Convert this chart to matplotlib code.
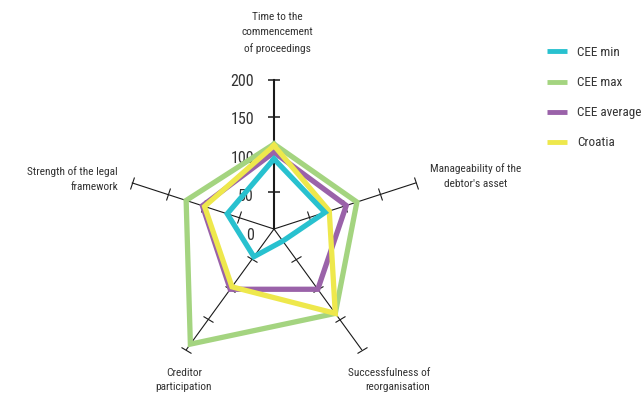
import numpy as np
import matplotlib
matplotlib.use('Agg')
import matplotlib.pyplot as plt
from matplotlib import font_manager as fm
from matplotlib.lines import Line2D
from matplotlib.markers import MarkerStyle
from matplotlib.transforms import Affine2D, offset_copy

# pick a condensed face if one is around
available = {f.name for f in fm.fontManager.ttflist}
for cand in ['Roboto Condensed', 'Archivo Narrow', 'PT Sans Narrow', 'Fira Sans Condensed',
             'Barlow Condensed', 'Liberation Sans Narrow', 'Open Sans Condensed']:
    if cand in available:
        plt.rcParams['font.family'] = [cand, 'DejaVu Sans']
        break

# data
categories = ['Time to the\ncommencement\nof proceedings',
              "Manageability of the\ndebtor's asset",
              'Successfulness of\nreorganisation',
              'Creditor\nparticipation',
              'Strength of the legal\nframework']
cee_min = [94, 72, 20, 46, 66]
cee_max = [114, 117, 140, 191, 124]
cee_avg = [103, 102, 100, 100, 101]
croatia = [112, 78, 140, 96, 98]
r_ticks = [0, 50, 100, 150, 200]

series = [('CEE max', cee_max, '#A4D480'),
          ('CEE average', cee_avg, '#9A62A9'),
          ('Croatia', croatia, '#EEE84C'),
          ('CEE min', cee_min, '#28C1CF')]
legend_order = ['CEE min', 'CEE max', 'CEE average', 'Croatia']

W, H = 644, 395
fig = plt.figure(figsize=(W / 100, H / 100), dpi=100)
cx, cy, rad = 274, 229, 149
ax = fig.add_axes([(cx - rad) / W, (H - cy - rad) / H, 2 * rad / W, 2 * rad / H],
                  projection='polar')
ax.set_theta_offset(np.pi / 2)
ax.set_theta_direction(-1)
ax.set_ylim(0, 200)
ax.axis('off')

n = len(categories)
angles = np.arange(n) * 2 * np.pi / n

# spokes with perpendicular ticks
for i, th in enumerate(angles):
    lw = 1.5 if i == 0 else 0.8
    ax.plot([th, th], [0, 200], color='#1a1a1a', lw=lw, zorder=1, clip_on=False)
    disp_angle = 90 - np.degrees(th)
    mk = MarkerStyle('|', transform=Affine2D().rotate_deg(disp_angle))
    ax.plot([th] * 4, r_ticks[1:], linestyle='none', marker=mk,
            markersize=8.5, markeredgewidth=1.1 if i == 0 else 0.8,
            color='#1a1a1a', zorder=1, clip_on=False)

# radial value labels on top spoke
for k, r in enumerate(r_ticks):
    tr = offset_copy(ax.transData, fig=fig, x=-20, y=-(1 + 1.4 * (4 - k)), units='dots')
    ax.text(0, r, str(r), transform=tr, ha='right', va='center',
            fontsize=11.5, color='#333333')

# series polygons
for name, vals, col in series:
    v = list(vals) + [vals[0]]
    th = list(angles) + [angles[0]]
    ax.plot(th, v, color=col, lw=3.8, solid_joinstyle='miter', zorder=3, clip_on=False)

# category labels (figure pixel placement)
lab_pos = [(277, 33, 'center'), (476, 176, 'center'), (430, 380, 'right'),
           (184, 380, 'center'), (118, 179, 'right')]
for lab, (x, y, ha) in zip(categories, lab_pos):
    fig.text(x / W, 1 - y / H, lab, ha=ha, va='center', fontsize=8.2,
             color='#333333', linespacing=1.6)

handles = []
cols = {s[0]: s[2] for s in series}
for name in legend_order:
    handles.append(Line2D([], [], color=cols[name], lw=3.5, solid_capstyle='butt'))
fig.legend(handles, legend_order, loc='upper left',
           bbox_to_anchor=(547 / W, 1 - 46 / H), frameon=False,
           fontsize=9.5, handlelength=1.5, handletextpad=0.8,
           labelspacing=1.3, borderpad=0, borderaxespad=0, labelcolor='#333333')

fig.savefig('out.png', dpi=100)
